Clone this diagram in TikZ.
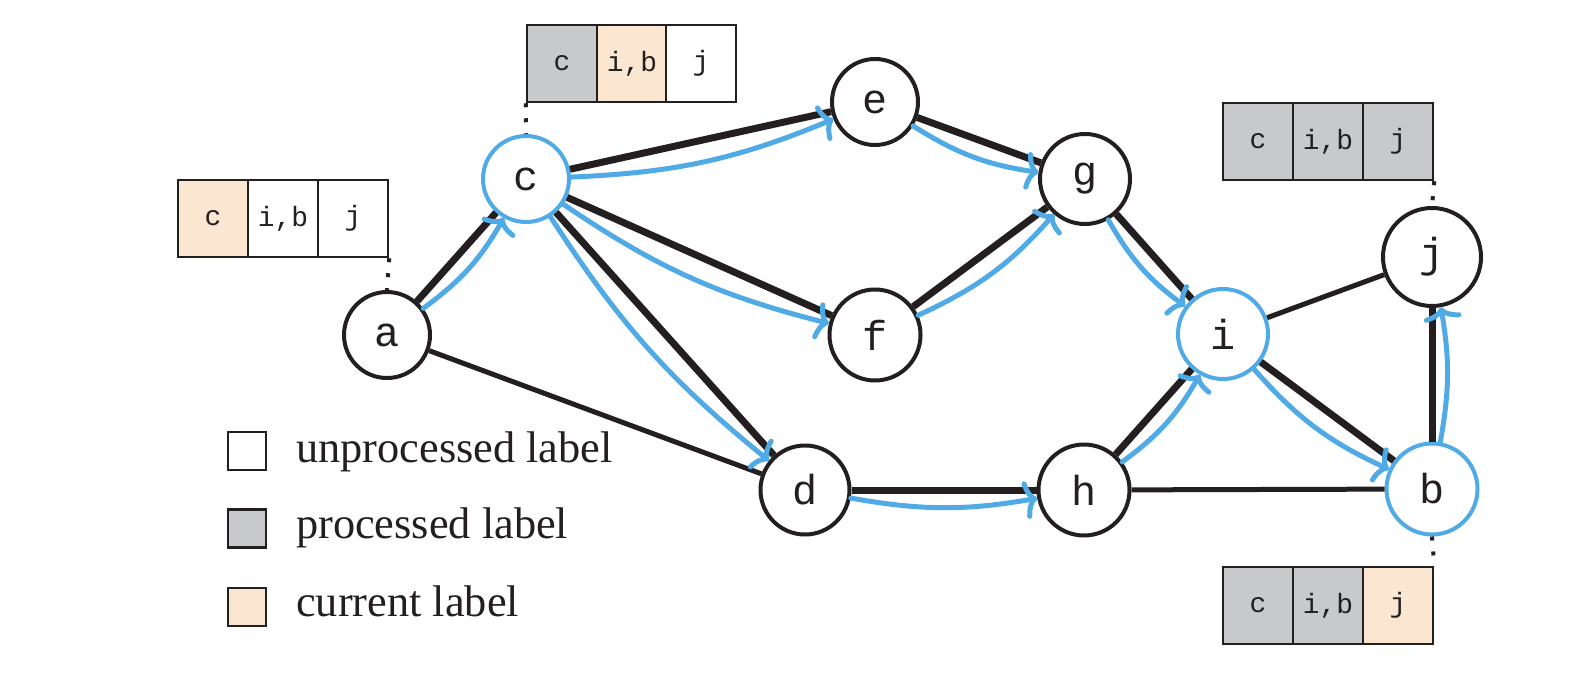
\documentclass[tikz,border=0pt]{standalone}
\usepackage{fontspec}
\setmainfont{Liberation Serif}
\newfontfamily\monofont{Liberation Mono}
\usetikzlibrary{arrows.meta}
\definecolor{ink}{RGB}{35,31,32}
\definecolor{pathblue}{RGB}{80,170,230}
\definecolor{donegray}{RGB}{200,201,203}
\definecolor{curpeach}{RGB}{251,230,209}

\begin{document}
\begin{tikzpicture}[x=1bp,y=-1bp,
  vertex/.style={circle, draw=ink, line width=4bp, inner sep=0pt,
    font=\fontsize{42}{42}\selectfont\monofont, text=ink},
  visited/.style={draw=pathblue},
  cell/.style={rectangle, draw=ink, line width=2.5bp, minimum width=70bp,
    minimum height=77bp, inner sep=0pt, fill=white,
    font=\fontsize{28}{28}\selectfont\monofont, text=ink},
  done/.style={fill=donegray},
  cur/.style={fill=curpeach},
  swatch/.style={rectangle, draw=ink, line width=2.5bp, minimum size=38bp, inner sep=0pt},
  legendtext/.style={anchor=base west, inner sep=0pt, text=ink,
    font=\fontsize{44.5}{48}\selectfont},
  edge/.style={draw=ink, line width=7bp},
  thinedge/.style={draw=ink, line width=5bp},
  tree/.style={draw=pathblue, line width=5bp, line cap=round,
    -{To[length=13bp,width=38bp,line cap=round]}},
  leader/.style={draw=ink, line width=4bp, dash pattern=on 4bp off 11bp}
]
\useasboundingbox (0,0) rectangle (1578,692);

% vertices
\node[vertex, minimum size=86bp] (a) at (387,335) {a};
\node[vertex, visited, minimum size=86bp] (c) at (526,179) {c};
\node[vertex, minimum size=86bp] (e) at (875,102) {e};
\node[vertex, minimum size=90bp] (g) at (1085,179) {g};
\node[vertex, minimum size=91bp] (f) at (875,335) {f};
\node[vertex, minimum size=89bp] (d) at (805,490) {d};
\node[vertex, minimum size=91bp] (h) at (1084,490) {h};
\node[vertex, visited, minimum size=90bp] (i) at (1223,334) {i};
\node[vertex, minimum size=98bp] (j) at (1432,257) {j};
\node[vertex, visited, minimum size=91bp] (b) at (1432,489) {b};

% graph edges
\draw[edge] (a) -- (c);
\draw[thinedge] (a) -- (d);
\draw[edge] (c) -- (e);
\draw[edge] (c) -- (f);
\draw[edge] (c) -- (d);
\draw[edge] (e) -- (g);
\draw[edge] (f) -- (g);
\draw[edge] (g) -- (i);
\draw[edge] (d) -- (h);
\draw[edge] (h) -- (i);
\draw[thinedge] (h) -- (b);
\draw[thinedge] (i) -- (j);
\draw[edge] (i) -- (b);
\draw[edge] (b) -- (j);

% search tree
\draw[tree] (a) to[bend right=12] (c);
\draw[tree] (c) to[bend right=10] (e);
\draw[tree] (c) to[bend right=10] (f);
\draw[tree] (c) to[bend right=9] (d);
\draw[tree] (e) to[bend right=12] (g);
\draw[tree] (f) to[bend right=12] (g);
\draw[tree] (g) to[bend right=12] (i);
\draw[tree] (d) to[bend right=10] (h);
\draw[tree] (h) to[bend right=12] (i);
\draw[tree] (i) to[bend right=12] (b);
\draw[tree] (b) to[bend right=10] (j);

% label lists
\node[cell, cur]  (la1) at (213,218.5) {c};
\node[cell]       (la2) at (283,218.5) {i,b};
\node[cell]       (la3) at (353,218.5) {j};

\node[cell, done] (lc1) at (562,63.5) {c};
\node[cell, cur]  (lc2) at (632,63.5) {i,b};
\node[cell]       (lc3) at (701,63.5) {j};

\node[cell, done] (lj1) at (1258,141.5) {c};
\node[cell, done] (lj2) at (1328,141.5) {i,b};
\node[cell, done] (lj3) at (1398,141.5) {j};

\node[cell, done] (lb1) at (1258,605.5) {c};
\node[cell, done] (lb2) at (1328,605.5) {i,b};
\node[cell, cur]  (lb3) at (1398,605.5) {j};

% leaders from lists to vertices
\draw[leader] (la3.south east) -- (a.north);
\draw[leader] (lc1.south west) -- (c.north);
\draw[leader] (lj3.south east) -- (j.north);
\draw[leader] (b.south) -- (lb3.north east);

% legend
\node[swatch, fill=white]    (k1) at (247,451) {};
\node[swatch, fill=donegray] (k2) at (247,528.5) {};
\node[swatch, fill=curpeach] (k3) at (247,607) {};
\node[legendtext] (t1) at (296,462) {unprocessed label};
\node[legendtext] (t2) at (296,538) {processed label};
\node[legendtext] (t3) at (296,616) {current label};
\end{tikzpicture}
\end{document}
